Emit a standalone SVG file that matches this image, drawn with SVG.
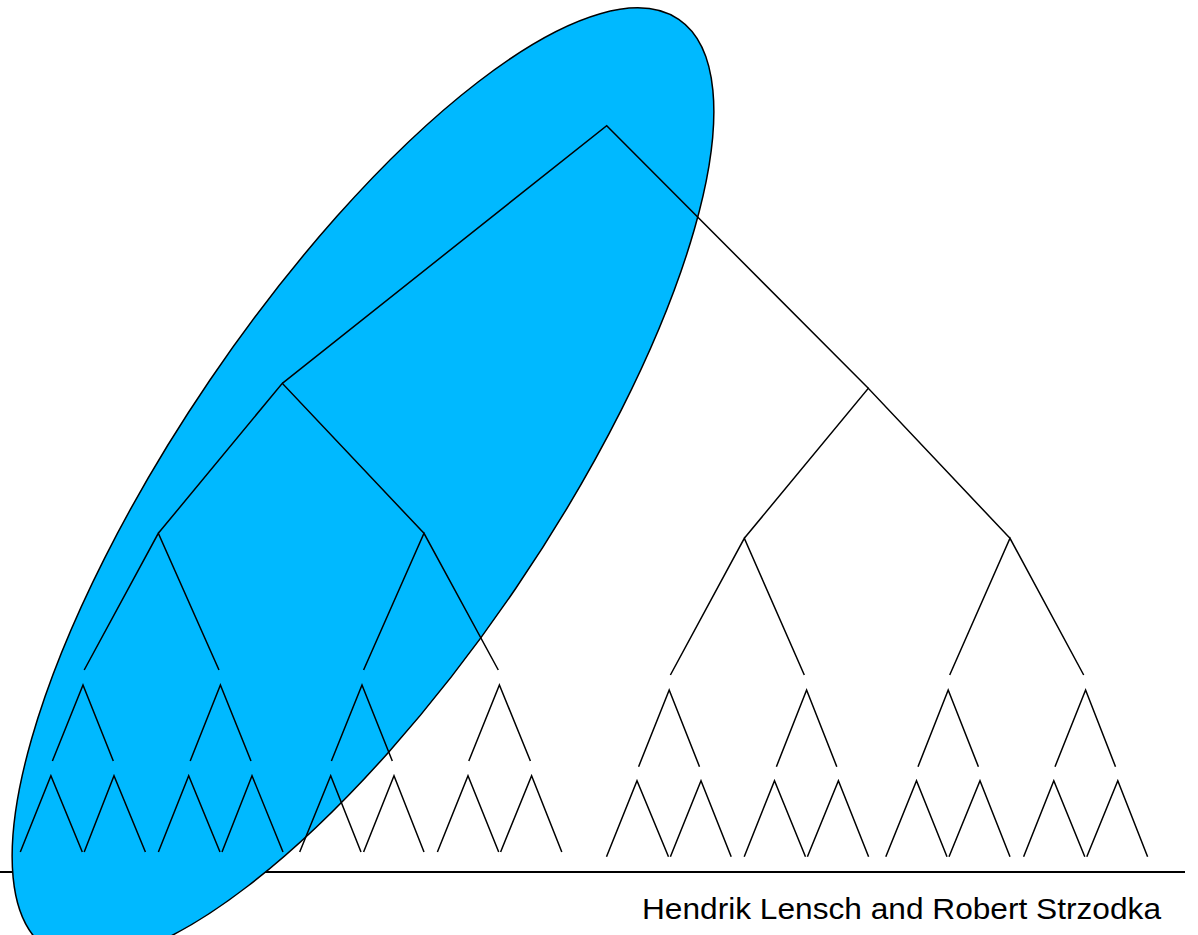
<svg xmlns="http://www.w3.org/2000/svg" width="1198" height="935" viewBox="0 0 1198 935">
  <style>
    .edge { fill: none; stroke: #000; stroke-width: 1.5; stroke-linejoin: miter; stroke-linecap: butt; }
    .rule { stroke: #000; stroke-width: 2; }
    .hl { fill: #00B9FF; stroke: #000; stroke-width: 1.5; }
    .credit { font-family: "Liberation Sans", Arial, sans-serif; font-size: 30px; fill: #000; }
  </style>
  <rect width="1198" height="935" fill="#fff"/>
  <g id="footer-rule">
    <line class="rule" x1="0" y1="872" x2="1185" y2="872"/>
  </g>
  <g id="highlight">
    <ellipse class="hl" cx="363" cy="484" rx="561.7" ry="185" transform="rotate(-55.8 363 484)"/>
  </g>
  <g id="connectors">
    <!-- top levels -->
    <polyline class="edge" points="282.3,383.3 606.7,125.7 868.3,388.3"/>
    <polyline class="edge" points="158.3,533.3 282.3,383.3 424,533.3"/>
    <polyline class="edge" points="744.3,538.3 868.3,388.3 1010,538.3"/>
    <polyline class="edge" points="84.2,670 158.3,533.3 219,670"/>
    <polyline class="edge" points="363.6,670 424,533.3 498.3,670"/>
    <polyline class="edge" points="670.4,675 744.3,538.3 804.3,675"/>
    <polyline class="edge" points="949.7,675 1010,538.3 1083.7,675"/>
    <!-- level 3 left -->
    <polyline class="edge" points="52.4,761 83,685 113.3,761"/>
    <polyline class="edge" points="190.2,761 220.4,685 251,761"/>
    <polyline class="edge" points="331.4,761 362,685 392.3,761"/>
    <polyline class="edge" points="468.8,761 499.4,685 530.4,761"/>
    <!-- level 3 right -->
    <polyline class="edge" points="638.6,766.7 669.2,690 699.5,766.7"/>
    <polyline class="edge" points="776.4,766.7 806.6,690 836.8,766.7"/>
    <polyline class="edge" points="918,766.7 948.2,690 978.4,766.7"/>
    <polyline class="edge" points="1055,766.7 1085.6,690 1115.5,766.7"/>
    <!-- level 4 left -->
    <polyline class="edge" points="20.3,852 50.9,775.7 82.3,852"/>
    <polyline class="edge" points="84.2,852 114,775.7 145.4,852"/>
    <polyline class="edge" points="158.4,852 188.7,775.7 220,852"/>
    <polyline class="edge" points="222,852 252,775.7 283,852"/>
    <polyline class="edge" points="299.7,852 330.7,775.7 361,852"/>
    <polyline class="edge" points="363.6,852 394,775.7 424,852"/>
    <polyline class="edge" points="437.4,852 468,775.7 498.7,852"/>
    <polyline class="edge" points="500.6,852 531.6,775.7 561.8,852"/>
    <!-- level 4 right -->
    <polyline class="edge" points="606.5,856.7 637,780.7 668.5,856.7"/>
    <polyline class="edge" points="670.4,856.7 701,780.7 731.2,856.7"/>
    <polyline class="edge" points="744.2,856.7 774.5,780.7 805.5,856.7"/>
    <polyline class="edge" points="807.4,856.7 838.4,780.7 868.6,856.7"/>
    <polyline class="edge" points="885.8,856.7 916.5,780.7 947,856.7"/>
    <polyline class="edge" points="949,856.7 980,780.7 1010,856.7"/>
    <polyline class="edge" points="1023.6,856.7 1053.8,780.7 1084.8,856.7"/>
    <polyline class="edge" points="1086.8,856.7 1117.8,780.7 1147.6,856.7"/>
  </g>
  <g id="credit">
    <text class="credit" x="642" y="919" textLength="519" lengthAdjust="spacingAndGlyphs">Hendrik Lensch and Robert Strzodka</text>
  </g>
</svg>
